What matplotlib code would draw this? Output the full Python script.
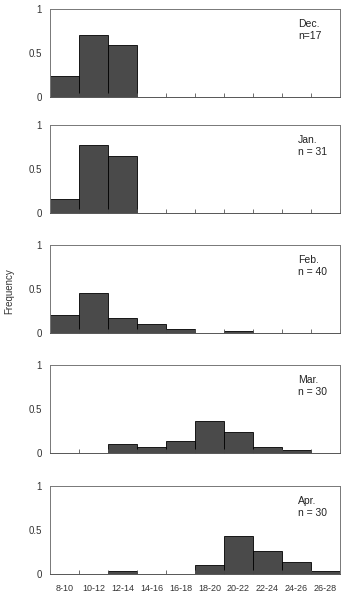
import numpy as np
import matplotlib
matplotlib.use('Agg')
import matplotlib.pyplot as plt

plt.rcParams['font.family'] = ['Liberation Sans', 'DejaVu Sans']

bins = ['8-10', '10-12', '12-14', '14-16', '16-18', '18-20', '20-22', '22-24', '24-26', '26-28']
months = ['Dec.', 'Jan.', 'Feb.', 'Mar.', 'Apr.']
counts = ['n=17', 'n = 31', 'n = 40', 'n = 30', 'n = 30']

dec = [0.235, 0.706, 0.588, 0, 0, 0, 0, 0, 0, 0]
jan = [0.161, 0.774, 0.645, 0, 0, 0, 0, 0, 0, 0]
feb = [0.2, 0.45, 0.17, 0.1, 0.05, 0, 0.025, 0, 0, 0]
mar = [0, 0, 0.1, 0.067, 0.133, 0.367, 0.233, 0.067, 0.033, 0]
apr = [0, 0, 0.033, 0, 0, 0.1, 0.433, 0.267, 0.133, 0.033]
series = [dec, jan, feb, mar, apr]

fig = plt.figure(figsize=(3.46, 6.01), dpi=100)
tops = [9, 125, 245, 365, 486]
h = 88
x = np.arange(len(bins))

for i, vals in enumerate(series):
    ax = fig.add_axes([50 / 346, 1 - (tops[i] + h) / 601, 290 / 346, h / 601])
    vals = np.array(vals)
    keep = vals > 0
    # empty bins are left out so the grey baseline shows through
    ax.bar(x[keep], vals[keep], width=1, color='#4a4a4a', edgecolor='black', linewidth=0.6)
    ax.set_xlim(-0.5, len(bins) - 0.5)
    ax.set_ylim(0, 1)
    ax.set_yticks([0, 0.5, 1])
    ax.set_yticklabels(['0', '0.5', '1'])
    ax.set_xticks(np.arange(len(bins) + 1) - 0.5)
    ax.set_xticklabels([])
    ax.set_xticks(x, minor=True)
    ax.tick_params(axis='x', which='major', direction='in', length=3, width=0.6, color='#555555')
    ax.tick_params(axis='x', which='minor', length=0)
    ax.tick_params(axis='y', length=0, labelsize=7, pad=6, labelcolor='#333333')
    for s in ax.spines.values():
        s.set_color('#777777')
        s.set_linewidth(0.7)
    ax.spines['bottom'].set_color('#555555')
    ax.text(0.855, 0.89, months[i] + '\n' + counts[i], transform=ax.transAxes,
            fontsize=7.5, va='top', ha='left', color='#222222', linespacing=1.25)
    if i == len(series) - 1:
        ax.set_xticklabels(bins, minor=True, fontsize=6.5, color='#333333')
        ax.tick_params(axis='x', which='minor', pad=7)

fig.text(0.012, 0.515, 'Frequency', rotation=90, fontsize=7, va='center', ha='left', color='#333333')

plt.savefig('out.png', dpi=100)
